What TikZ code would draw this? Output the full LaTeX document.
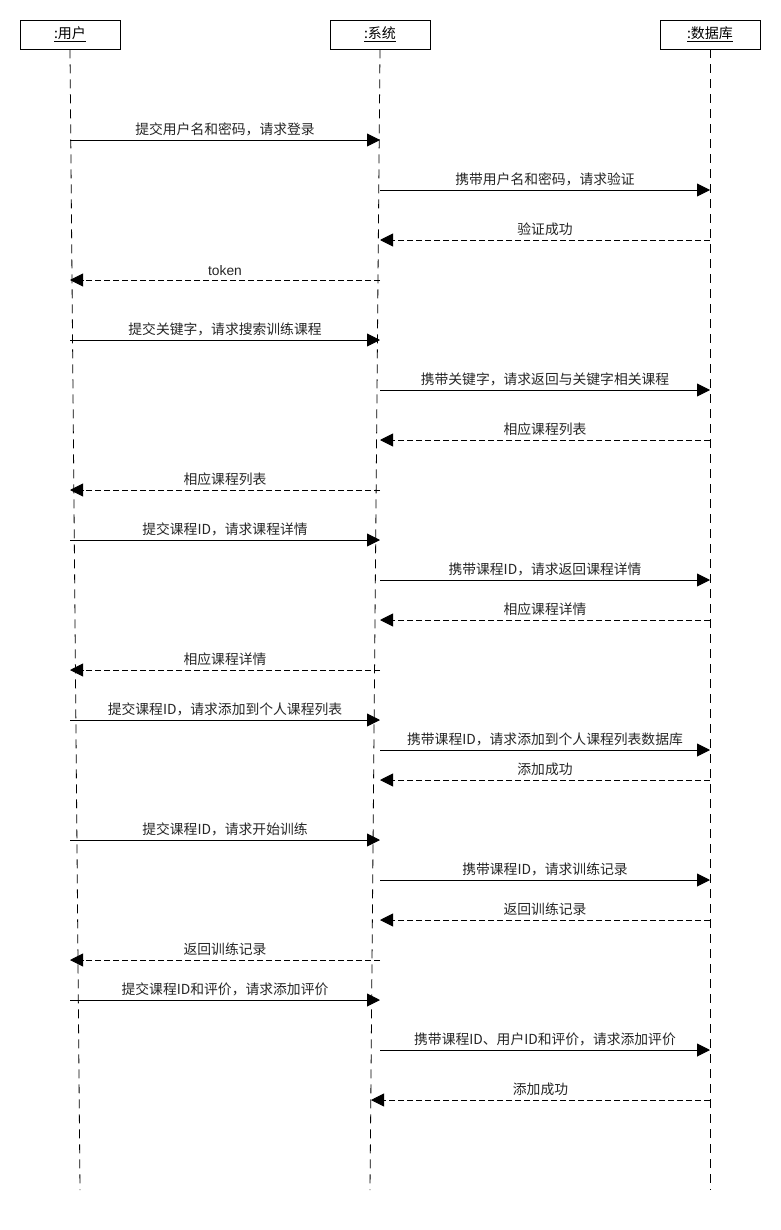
\documentclass[tikz,border=0pt]{standalone}
\usepackage{fontspec}
\setmainfont{Liberation Sans}
\newfontfamily\cjk{Noto Sans CJK SC}
\usetikzlibrary{arrows.meta}
\tikzset{
  obj/.style={draw, line width=0.9pt, minimum width=100pt, minimum height=29pt, inner sep=0pt, font=\cjk\fontsize{14}{16}\selectfont},
  life/.style={line width=0.8pt, dash pattern=on 9pt off 6pt},
  call/.style={line width=0.9pt, -{Triangle[length=13pt,width=13pt]}},
  reply/.style={line width=0.9pt, dash pattern=on 6pt off 3pt, -{Triangle[length=13pt,width=13pt]}},
  lbl/.style={above, inner sep=0pt, yshift=3.5pt, text=black!85, font=\cjk\fontsize{13.8}{16}\selectfont},
}
\newcommand\msg[6]{%
  \coordinate (#6a) at (#2,#1);
  \coordinate (#6b) at (#3,#1);
  \draw[#4] (#6a) -- node[lbl]{#5} (#6b);}
\begin{document}
\begin{tikzpicture}[x=1pt,y=-1pt]
\useasboundingbox[fill=white] (0,0) rectangle (780,1230);
\node[obj] (u) at (70,34.5) {\underline{:用户}};
\node[obj] (s) at (380,34.5) {\underline{:系统}};
\node[obj] (d) at (710,34.5) {\underline{:数据库}};
\coordinate (ue) at (80,1190);
\coordinate (se) at (370,1190);
\coordinate (de) at (710,1190);
\draw[life] (u.south) -- (ue);
\draw[life] (s.south) -- (se);
\draw[life] (d.south) -- (de);
\msg{140}{70}{380}{call}{提交用户名和密码，请求登录}{m1}
\msg{190}{380}{710}{call}{携带用户名和密码，请求验证}{m2}
\msg{240}{710}{380}{reply}{验证成功}{m3}
\msg{280}{380}{70}{reply}{\rmfamily token}{m4}
\msg{340}{70}{380}{call}{提交关键字，请求搜索训练课程}{m5}
\msg{390}{380}{710}{call}{携带关键字，请求返回与关键字相关课程}{m6}
\msg{440}{710}{380}{reply}{相应课程列表}{m7}
\msg{490}{380}{70}{reply}{相应课程列表}{m8}
\msg{540}{70}{380}{call}{提交课程ID，请求课程详情}{m9}
\msg{580}{380}{710}{call}{携带课程ID，请求返回课程详情}{m10}
\msg{620}{710}{380}{reply}{相应课程详情}{m11}
\msg{670}{380}{70}{reply}{相应课程详情}{m12}
\msg{720}{70}{380}{call}{提交课程ID，请求添加到个人课程列表}{m13}
\msg{750}{380}{710}{call}{携带课程ID，请求添加到个人课程列表数据库}{m14}
\msg{780}{710}{380}{reply}{添加成功}{m15}
\msg{840}{70}{380}{call}{提交课程ID，请求开始训练}{m16}
\msg{880}{380}{710}{call}{携带课程ID，请求训练记录}{m17}
\msg{920}{710}{380}{reply}{返回训练记录}{m18}
\msg{960}{380}{70}{reply}{返回训练记录}{m19}
\msg{1000}{70}{380}{call}{提交课程ID和评价，请求添加评价}{m20}
\msg{1050}{380}{710}{call}{携带课程ID、用户ID和评价，请求添加评价}{m21}
\msg{1100}{710}{371}{reply}{添加成功}{m22}
\end{tikzpicture}
\end{document}
